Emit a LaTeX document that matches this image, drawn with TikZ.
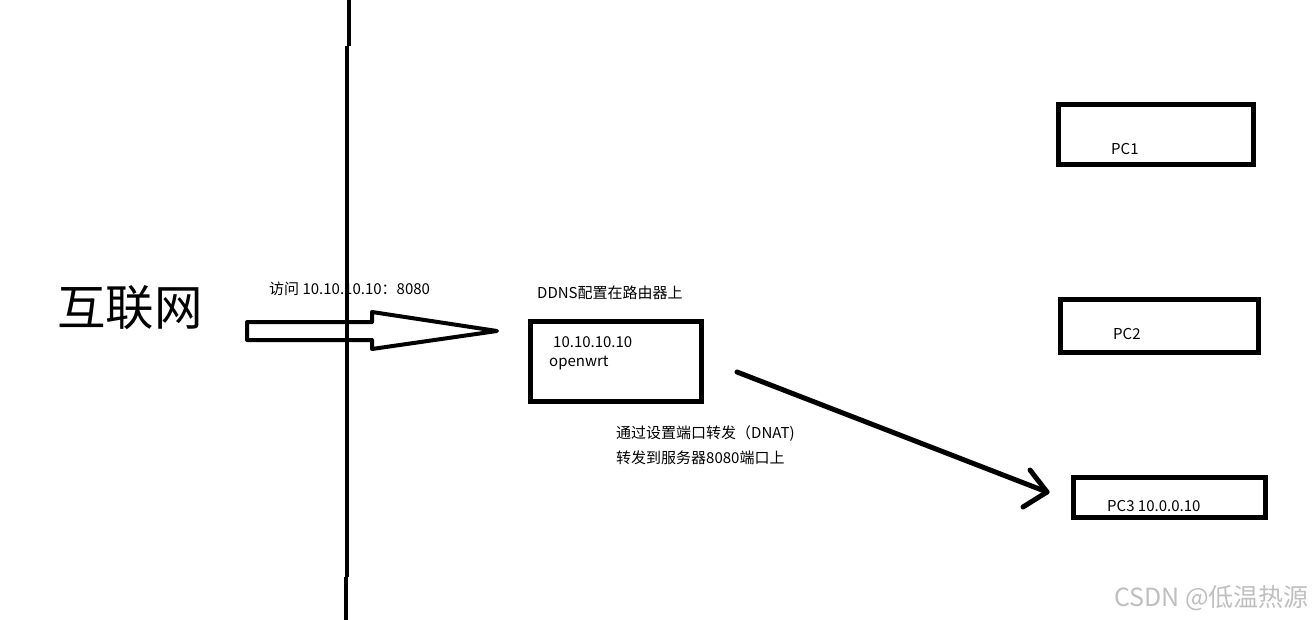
\documentclass[tikz,border=0pt]{standalone}
\usepackage{fontspec}
\setmainfont{Noto Sans CJK SC}
\newfontfamily\cjk{Noto Sans CJK SC}
\begin{document}
\begin{tikzpicture}[x=1pt,y=-1pt,
  box/.style={draw=black,line width=5pt},
  lbl/.style={anchor=west,inner sep=0pt,font=\cjk\fontsize{15}{17}\selectfont},
  stroke/.style={line width=4pt,line cap=round,line join=round}]
\useasboundingbox[fill=white] (0,0) rectangle (1316,620);
% big label
\node[anchor=west,inner sep=0pt,font=\cjk\fontsize{48.5}{52}\selectfont] (inet) at (57,308) {互联网};
% hollow arrow
\draw[stroke] (247,322) -- (372,322) -- (372,312) -- (497,331) -- (372,349) -- (372,340) -- (247,340) -- cycle;
\node[lbl] (visit) at (269,289) {访问 10.10.10.10：8080};
% router
\node[lbl] (ddns) at (537,293) {DDNS配置在路由器上};
\draw[box] (530.5,321.5) rectangle (701.5,401.5);
\node[lbl] (ip) at (553,342) {10.10.10.10};
\node[lbl] (owrt) at (549,363) {openwrt};
% PCs
\draw[box] (1058.5,104.5) rectangle (1253.5,164.5);
\node[lbl] (pc1) at (1111,149) {PC1};
\draw[box] (1060.5,299.5) rectangle (1258.5,352.5);
\node[lbl] (pc2) at (1113,334) {PC2};
\draw[box] (1073.5,477.5) rectangle (1265.5,517.5);
\node[lbl] (pc3) at (1107,506) {PC3 10.0.0.10};
% diagonal arrow
\coordinate (d0) at (737,372);
\coordinate (d1) at (1047,492);
\coordinate (h1) at (1030,470);
\coordinate (h2) at (1023,507);
\draw[stroke,line width=5pt] (d0) -- (d1);
\draw[stroke,line width=5pt] (h1) -- (d1) -- (h2);
\node[lbl] (nat1) at (616,434) {通过设置端口转发（DNAT)};
\node[lbl] (nat2) at (616,458) {转发到服务器8080端口上};
% watermark
\node[anchor=west,inner sep=0pt,text=black!25,font=\cjk\fontsize{25}{27}\selectfont] (wm) at (1114,598) {CSDN @低温热源};
% vertical border line (drawn on top)
\coordinate (v0) at (349,0);
\coordinate (v1) at (349,46);
\coordinate (v2) at (347,46);
\coordinate (v3) at (347,577);
\coordinate (v4) at (346,577);
\coordinate (v5) at (346,620);
\draw[line width=4pt] (v0) -- (v1) (v2) -- (v3) (v4) -- (v5);
\end{tikzpicture}
\end{document}
